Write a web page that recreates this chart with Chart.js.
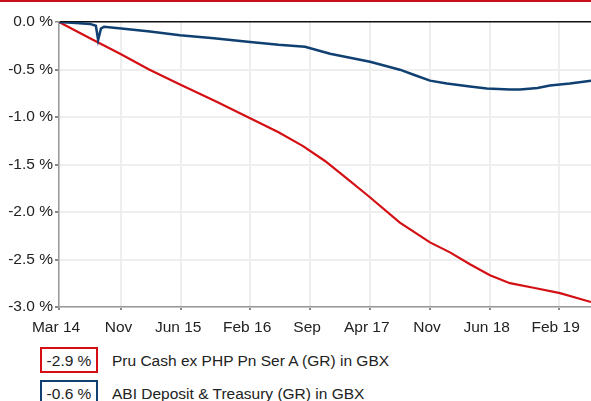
<!DOCTYPE html>
<html>
<head>
<meta charset="utf-8">
<script src="https://cdn.jsdelivr.net/npm/chart.js@4"></script>
<style>
  body { margin: 0; background: #fff; font-family: "Liberation Sans", Arial, sans-serif; }
  #wrap { position: relative; width: 591px; height: 401px; overflow: hidden; border-top: 2px solid #c8101a; box-sizing: border-box; }
  #chartBox { position: absolute; left: 0; top: -2px; width: 591px; height: 340px; }
  .legBox { position: absolute; left: 40px; width: 54px; height: 22px; border: 2px solid; font-size: 15.5px; line-height: 23px; text-align: center; color: #222; }
  .legText { position: absolute; left: 112px; font-size: 15.5px; line-height: 24px; color: #222; white-space: nowrap; }
</style>
</head>
<body>
<div id="wrap">
  <div id="chartBox"><canvas id="chart"></canvas></div>
  <div class="legBox" id="box1" style="top:345px;border-color:#d40f14;"></div>
  <div class="legText" id="txt1" style="top:347px;"></div>
  <div class="legBox" id="box2" style="top:378px;border-color:#103f72;"></div>
  <div class="legText" id="txt2" style="top:380px;"></div>
</div>
<script>
// Eixo x: dias desde o início (fim de março de 2014)
const tickDays = [0, 222, 434, 679, 892, 1104, 1318, 1530, 1775];
const tickLabels = ['Mar 14', 'Nov', 'Jun 15', 'Feb 16', 'Sep', 'Apr 17', 'Nov', 'Jun 18', 'Feb 19'];
const lastDay = 1890;

// Séries (valores em %)
const seriesNames = ['Pru Cash ex PHP Pn Ser A (GR) in GBX', 'ABI Deposit & Treasury (GR) in GBX'];
const seriesLast = ['-2.9 %', '-0.6 %'];

const pruDays = [0, 110, 217, 320, 430, 560, 679, 780, 867, 945, 1020, 1098, 1211, 1318, 1389, 1460, 1531, 1602, 1690, 1780, 1890];
const pruValues = [0, -0.17, -0.334, -0.50, -0.659, -0.84, -1.014, -1.16, -1.307, -1.463, -1.64, -1.829, -2.111, -2.320, -2.425, -2.55, -2.665, -2.749, -2.80, -2.854, -2.948];

const abiDays = [0, 60, 110, 131, 139, 149, 160, 230, 323, 430, 550, 679, 780, 874, 963, 1105, 1211, 1265, 1318, 1378, 1460, 1520, 1602, 1638, 1700, 1744, 1815, 1890];
const abiValues = [0, -0.01, -0.02, -0.04, -0.19, -0.07, -0.05, -0.07, -0.10, -0.14, -0.17, -0.21, -0.24, -0.26, -0.334, -0.418, -0.502, -0.56, -0.617, -0.648, -0.680, -0.700, -0.711, -0.711, -0.695, -0.669, -0.648, -0.617];

document.getElementById('box1').textContent = seriesLast[0];
document.getElementById('txt1').textContent = seriesNames[0];
document.getElementById('box2').textContent = seriesLast[1];
document.getElementById('txt2').textContent = seriesNames[1];

function toPoints(days, values) {
    return days.map((d, i) => ({ x: d, y: values[i] }));
}

const font = { family: '"Liberation Sans", Arial, sans-serif', size: 15.5 };

new Chart(document.getElementById('chart').getContext('2d'), {
    type: 'line',
    data: {
        datasets: [{
            label: seriesNames[1],
            data: toPoints(abiDays, abiValues),
            borderColor: '#103f72',
            borderWidth: 2.5,
            pointRadius: 0,
            tension: 0
        }, {
            label: seriesNames[0],
            data: toPoints(pruDays, pruValues),
            borderColor: '#d40f14',
            borderWidth: 2.2,
            pointRadius: 0,
            tension: 0
        }]
    },
    options: {
        responsive: true,
        maintainAspectRatio: false,
        animation: false,
        layout: { padding: { top: 22, right: 0, left: 0, bottom: 0 } },
        plugins: { legend: { display: false }, tooltip: { enabled: false } },
        scales: {
            x: {
                type: 'linear',
                min: 0,
                max: lastDay,
                afterBuildTicks: axis => { axis.ticks = tickDays.map(v => ({ value: v })); },
                afterFit: axis => { axis.height = 33; },
                ticks: {
                    callback: (v, i) => tickLabels[i],
                    font: font,
                    color: '#222',
                    padding: 8,
                    labelOffset: -3,
                    maxRotation: 0,
                    autoSkip: false
                },
                grid: { color: '#eeeeee', lineWidth: 2, tickColor: '#888', tickLength: 3 },
                border: { color: '#999', width: 1.5 }
            },
            y: {
                min: -3,
                max: 0,
                afterBuildTicks: axis => {
                    const t = [];
                    for (let v = 0; v >= -3; v -= 0.5) t.push({ value: v });
                    axis.ticks = t;
                },
                afterFit: axis => { axis.width = 59; },
                ticks: {
                    callback: v => v.toFixed(1) + ' %',
                    font: font,
                    color: '#222',
                    padding: 2
                },
                grid: {
                    color: c => (c.tick && c.tick.value === 0) ? '#111' : '#eeeeee',
                    lineWidth: c => (c.tick && c.tick.value === 0) ? 1.5 : 2,
                    tickColor: '#888',
                    tickLength: 4
                },
                border: { color: '#999', width: 1.5 }
            }
        }
    }
});
</script>
</body>
</html>
